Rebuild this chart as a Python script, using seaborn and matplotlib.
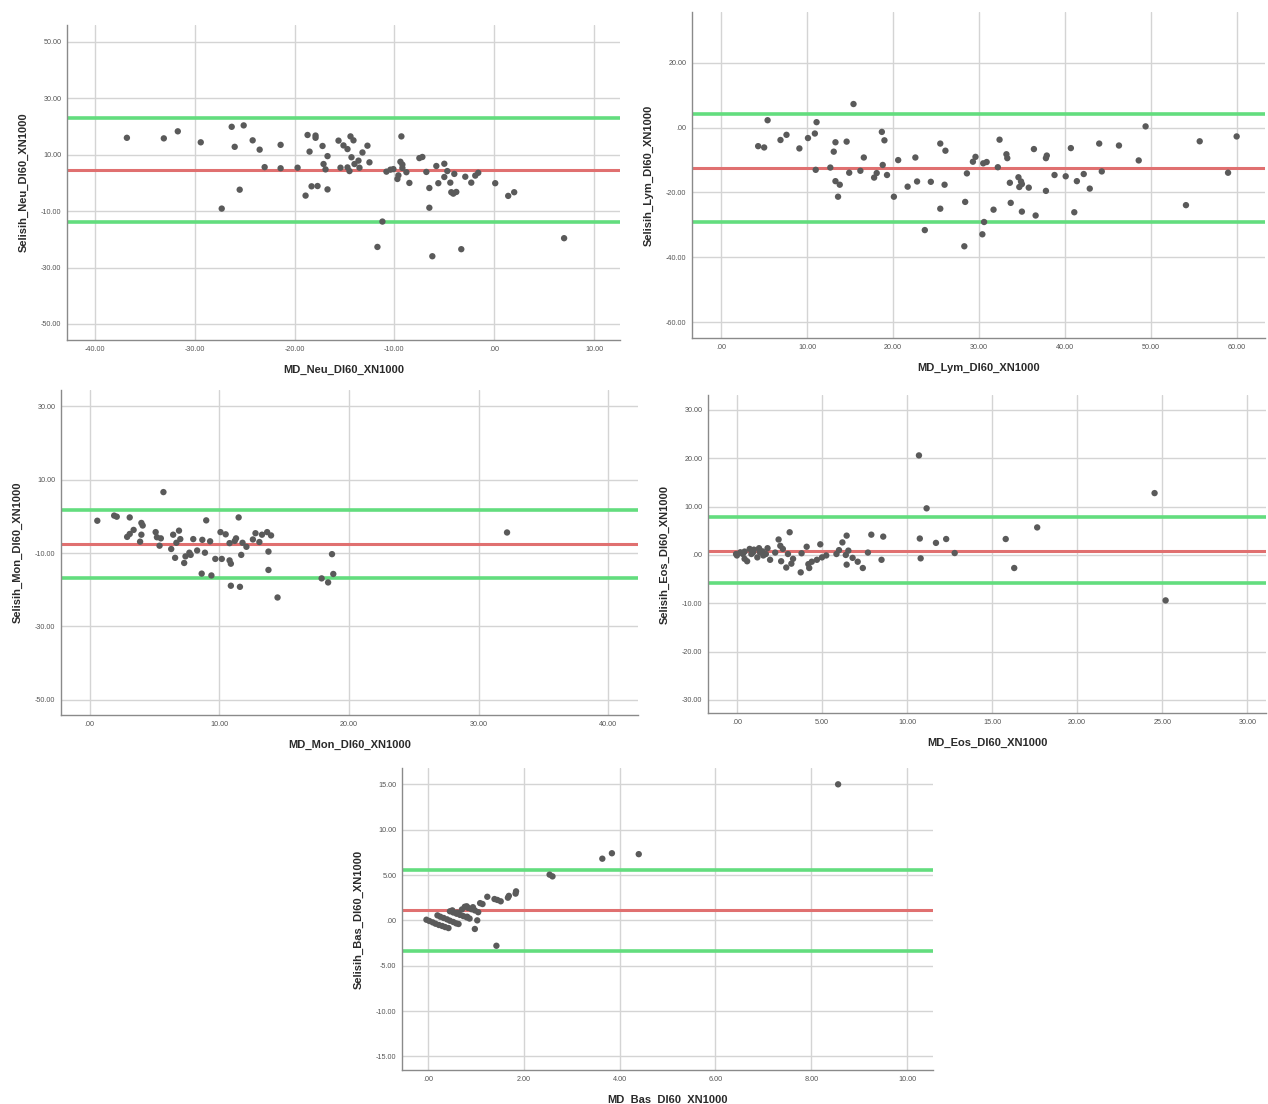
import matplotlib
matplotlib.use("Agg")
import matplotlib.pyplot as plt
import seaborn as sns
import numpy as np
import pandas as pd

# ---------------- data ----------------
neu_x = [-36.8, -33.1, -31.7, -29.4, -26.3, -25.1, -26.0, -25.5, -27.3, -24.2, -23.5, -23.0,
         -21.4, -21.4, -19.7, -18.9, -18.7, -18.5, -18.3, -17.9, -17.9, -17.7, -17.2, -17.1,
         -16.9, -16.7, -16.7, -15.6, -15.4, -15.1, -14.7, -14.7, -14.5, -14.4, -14.1, -14.3,
         -14.0, -13.6, -13.5, -13.2, -12.7, -12.5, -11.7, -11.2, -10.8, -10.4, -10.1, -9.7,
         -9.6, -9.4, -9.3, -9.2, -9.2, -8.8, -8.5, -7.5, -7.2, -6.8, -6.5, -6.5, -6.2, -5.8,
         -5.6, -5.0, -5.0, -4.7, -4.4, -4.3, -4.1, -3.8, -4.0, -3.3, -2.9, -2.3, -1.9, -1.6,
         0.1, 1.4, 2.0, 7.0]
neu_y = [16.0, 15.8, 18.3, 14.4, 19.9, 20.4, 12.8, -2.4, -9.1, 15.1, 11.8, 5.6,
         13.5, 5.2, 5.4, -4.5, 17.0, 11.1, -1.2, 16.8, 16.0, -1.1, 13.1, 6.7,
         4.8, 9.5, -2.3, 15.0, 5.4, 13.3, 12.0, 5.5, 4.2, 16.5, 15.1, 9.1,
         6.7, 7.9, 5.4, 10.8, 13.2, 7.3, -22.7, -13.7, 4.0, 4.7, 4.9, 1.4,
         2.7, 7.5, 16.5, 6.5, 5.3, 3.8, 0.0, 8.8, 9.2, 3.9, -1.8, -8.8, -26.0, 6.0,
         -0.1, 2.1, 6.8, 4.2, 0.1, -3.3, -3.8, -3.2, 3.2, -23.5, 2.2, 0.1, 2.6, 3.6,
         -0.1, -4.6, -3.3, -19.6]

lym_x = [4.3, 5.0, 5.4, 6.9, 7.6, 9.1, 10.1, 10.9, 11.1, 11.0, 12.7, 13.1, 13.3, 13.3, 13.6,
         13.8, 14.6, 14.9, 15.4, 16.2, 16.6, 17.8, 18.1, 18.7, 18.8, 19.0, 19.3, 20.1, 20.6,
         21.7, 22.6, 22.8, 23.7, 24.4, 25.5, 25.5, 26.0, 26.1, 28.3, 28.4, 28.6, 29.3, 29.6,
         30.4, 30.5, 30.6, 30.9, 31.7, 32.2, 32.4, 33.2, 33.3, 33.6, 33.7, 34.6, 34.7, 34.9,
         35.0, 35.0, 35.8, 36.4, 36.6, 37.8, 37.8, 37.9, 38.8, 40.1, 40.7, 41.1, 41.4, 42.2,
         42.9, 44.0, 44.3, 46.3, 48.6, 49.4, 54.1, 55.7, 59.0, 60.0]
lym_y = [-5.7, -6.1, 2.3, -3.8, -2.2, -6.4, -3.2, -1.8, 1.7, -13.0, -12.3, -7.4, -4.5, -16.5, -21.3,
         -17.6, -4.3, -13.9, 7.3, -13.3, -9.2, -15.4, -14.0, -1.3, -11.5, -3.9, -14.6, -21.3, -10.0,
         -18.2, -9.2, -16.6, -31.6, -16.7, -4.9, -25.0, -17.6, -7.1, -36.6, -22.9, -14.1, -10.5, -9.0,
         -32.9, -11.0, -29.1, -10.6, -25.3, -12.2, -3.7, -8.2, -9.4, -17.0, -23.2, -15.3, -18.3, -16.6,
         -17.4, -25.9, -18.5, -6.6, -27.1, -19.5, -9.4, -8.6, -14.6, -15.0, -6.3, -26.1, -16.5, -14.3,
         -18.8, -4.9, -13.5, -5.5, -10.1, 0.4, -23.9, -4.2, -13.9, -2.7]

mon_x = [0.6, 1.9, 2.1, 3.1, 2.9, 3.1, 3.4, 4.0, 4.1, 4.0, 3.9, 5.1, 5.2, 5.4, 5.5, 5.7, 6.3,
         6.45, 6.6, 6.7, 6.9, 7.0, 7.3, 7.4, 7.7, 7.8, 8.0, 8.3, 8.65, 8.7, 8.9, 9.0, 9.3, 9.4,
         9.7, 10.2, 10.1, 10.5, 10.8, 10.8, 10.9, 10.9, 11.2, 11.3, 11.5, 11.6, 11.7, 11.8, 12.1,
         12.6, 12.8, 13.1, 13.3, 13.7, 13.8, 13.8, 14.0, 14.5, 17.9, 18.4, 18.7, 18.8, 32.2]
mon_y = [-1.2, 0.2, -0.1, -0.3, -5.6, -4.8, -3.7, -1.8, -2.5, -5.0, -6.9, -4.3, -5.7, -8.0, -6.0, 6.6, -8.9,
         -5.0, -11.3, -7.2, -3.9, -6.2, -12.7, -10.9, -9.9, -10.5, -6.2, -9.3, -15.6, -6.4, -9.9, -1.1, -6.8, -16.1,
         -11.6, -11.6, -4.3, -4.9, -7.3, -12.0, -12.9, -18.9, -6.7, -6.0, -0.3, -19.2, -10.5, -7.2, -8.3,
         -6.3, -4.6, -7.0, -5.0, -4.3, -9.6, -14.6, -5.2, -22.1, -16.9, -18.0, -10.3, -15.7, -4.4]

eos_x = [10.7, 24.55, 11.15, 17.65, 3.1, 6.45, 7.9, 8.6, 10.75, 11.7, 12.3, 15.8, 12.8, 10.8, 8.5,
         16.3, 25.2, 2.45, 4.9, 6.2, 4.1, 6.0, 6.55, 7.7, 7.4, 7.1, 6.8, 6.45, 6.4, 5.85, 5.25,
         5.0, 4.7, 4.4, 4.25, 4.2, 3.75, 3.8, 3.3, 3.2, 2.9, 3.0, 2.7, 2.55, 2.6, 2.25, 1.95,
         1.8, 1.7, 1.35, 1.3, 1.2, 1.0, 0.85, 0.75, 0.6, 0.45, 0.35, 0.2, 0.0, -0.05, 1.5, 0.95,
         0.45, 1.55]
eos_y = [20.6, 12.8, 9.65, 5.7, 4.7, 4.0, 4.2, 3.8, 3.4, 2.5, 3.3, 3.3, 0.4, -0.7, -1.0,
         -2.7, -9.4, 3.2, 2.2, 2.6, 1.7, 1.0, 0.9, 0.5, -2.7, -1.4, -0.6, -2.0, 0.0, 0.2, -0.1,
         -0.5, -1.0, -1.4, -2.7, -1.9, -3.6, 0.35, -0.8, -1.8, -2.6, 0.2, 1.25, 1.9, -1.3, 0.5, -1.0,
         1.4, 0.2, 0.55, 1.4, -0.5, 1.1, 0.2, 1.25, -1.3, -0.8, 0.2, 0.55, -0.1, 0.2, 0.75, 0.55,
         0.7, -0.1]

bas_x = [8.56, 3.64, 3.84, 4.4, 2.54, 2.6, 1.84, 1.69, 1.52, 1.45, 1.39, 1.24, 1.14, 1.09, 1.05,
         1.03, 0.98, 0.94, 0.81, 0.82, 0.71, 0.61, 0.51, 1.43, 1.67, 1.83,
         -0.03, 0.03, 0.10, 0.16, 0.23, 0.30, 0.36, 0.43,
         0.20, 0.26, 0.33, 0.40, 0.46, 0.53, 0.59, 0.64,
         0.46, 0.53, 0.60, 0.67, 0.74, 0.81, 0.87,
         0.77, 0.84, 0.91, 0.98]
bas_y = [15.0, 6.8, 7.4, 7.3, 5.04, 4.85, 3.2, 2.7, 2.1, 2.25, 2.35, 2.6, 1.8, 1.9, 0.9,
         0.0, -0.95, 1.45, 1.55, 0.4, 1.2, 0.85, 1.1, -2.8, 2.5, 2.95,
         0.07, -0.07, -0.22, -0.37, -0.51, -0.62, -0.74, -0.85,
         0.55, 0.40, 0.26, 0.11, -0.04, -0.18, -0.33, -0.40,
         1.00, 0.87, 0.73, 0.60, 0.47, 0.33, 0.20,
         1.50, 1.37, 1.23, 1.10]

# limits of agreement and mean difference (lower, mean, upper)
neu_lines = [-13.9, 4.7, 23.1]
lym_lines = [-29.2, -12.5, 4.3]
mon_lines = [-16.8, -7.6, 1.8]
eos_lines = [-5.8, 0.9, 7.9]
bas_lines = [-3.4, 1.1, 5.5]

neu_xticks = [-40, -30, -20, -10, 0, 10]
neu_yticks = [50, 30, 10, -10, -30, -50]
lym_xticks = [0, 10, 20, 30, 40, 50, 60]
lym_yticks = [20, 0, -20, -40, -60]
mon_xticks = [0, 10, 20, 30, 40]
mon_yticks = [30, 10, -10, -30, -50]
eos_xticks = [0, 5, 10, 15, 20, 25, 30]
eos_yticks = [30, 20, 10, 0, -10, -20, -30]
bas_xticks = [0, 2, 4, 6, 8, 10]
bas_yticks = [15, 10, 5, 0, -5, -10, -15]

x_labels = ["MD_Neu_DI60_XN1000", "MD_Lym_DI60_XN1000", "MD_Mon_DI60_XN1000",
            "MD_Eos_DI60_XN1000", "MD_Bas_DI60_XN1000"]
y_labels = ["Selisih_Neu_DI60_XN1000", "Selisih_Lym_DI60_XN1000", "Selisih_Mon_DI60_XN1000",
            "Selisih_Eos_DI60_XN1000", "Selisih_Bas_DI60_XN1000"]

# ---------------- styling ----------------
sns.set_style("white")
plt.rcParams['font.family'] = ['Liberation Sans', 'DejaVu Sans']

fig = plt.figure(figsize=(12.68, 11.04), dpi=100)

W, H = 1268.0, 1104.0
def rect(l, t, r, b):
    return [l / W, 1 - b / H, (r - l) / W, (b - t) / H]

panels = [
    dict(pos=rect(67, 25, 620, 340), x=neu_x, y=neu_y, lines=neu_lines,
         xt=neu_xticks, yt=neu_yticks, xlim=(-42.8, 12.6), ylim=(-55.7, 56.0)),
    dict(pos=rect(692, 12, 1265, 338), x=lym_x, y=lym_y, lines=lym_lines,
         xt=lym_xticks, yt=lym_yticks, xlim=(-3.4, 63.3), ylim=(-64.9, 35.7)),
    dict(pos=rect(61, 390, 638, 715), x=mon_x, y=mon_y, lines=mon_lines,
         xt=mon_xticks, yt=mon_yticks, xlim=(-2.2, 42.3), ylim=(-54.1, 34.4)),
    dict(pos=rect(708, 395, 1266, 713), x=eos_x, y=eos_y, lines=eos_lines,
         xt=eos_xticks, yt=eos_yticks, xlim=(-1.7, 31.1), ylim=(-32.7, 33.1)),
    dict(pos=rect(402, 768, 933, 1070), x=bas_x, y=bas_y, lines=bas_lines,
         xt=bas_xticks, yt=bas_yticks, xlim=(-0.54, 10.54), ylim=(-16.5, 16.8)),
]

def fmt(v):
    s = f"{v:.2f}"
    if s.startswith("0."):
        s = s[1:]
    elif s.startswith("-0."):
        s = "-" + s[2:]
    return s

grid_c = "#d4d4d4"
for i, p in enumerate(panels):
    ax = fig.add_axes(p["pos"])
    ax.set_xlim(*p["xlim"])
    ax.set_ylim(*p["ylim"])
    for xv in p["xt"]:
        ax.axvline(xv, color=grid_c, lw=1.0, zorder=0)
    for yv in p["yt"]:
        ax.axhline(yv, color=grid_c, lw=1.0, zorder=0)
    lo, mn, hi = p["lines"]
    ax.axhline(hi, color="#63dd7e", lw=2.6, zorder=1)
    ax.axhline(lo, color="#63dd7e", lw=2.6, zorder=1)
    ax.axhline(mn, color="#e07070", lw=2.2, zorder=1)
    df = pd.DataFrame({"x": p["x"], "y": p["y"]})
    sns.scatterplot(data=df, x="x", y="y", ax=ax, color="#5a5a5a", s=21,
                    edgecolor="none", linewidth=0, zorder=3)
    ax.set_xticks(p["xt"])
    ax.set_yticks(p["yt"])
    ax.set_xticklabels([fmt(v) for v in p["xt"]])
    ax.set_yticklabels([fmt(v) for v in p["yt"]])
    ax.tick_params(axis="both", length=0, labelsize=5.2, labelcolor="#555555", pad=4)
    for s in ["top", "right"]:
        ax.spines[s].set_visible(False)
    for s in ["left", "bottom"]:
        ax.spines[s].set_color("#8a8a8a")
        ax.spines[s].set_linewidth(1.0)
    ax.set_xlabel(x_labels[i], fontsize=8, fontweight="bold", color="#2a2a2a", labelpad=9)
    ax.set_ylabel(y_labels[i], fontsize=8, fontweight="bold", color="#2a2a2a", labelpad=9)
    ax.grid(False)

fig.savefig("out.png", dpi=100, facecolor="white")
